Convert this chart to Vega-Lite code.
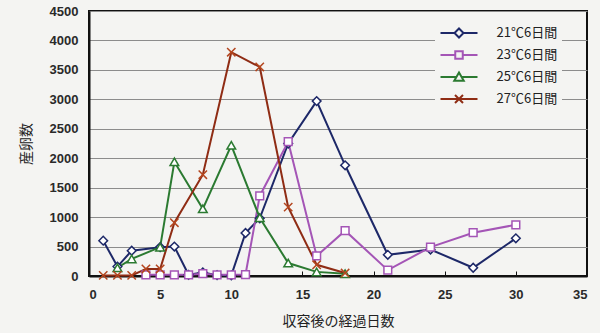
{
  "$schema": "https://vega.github.io/schema/vega-lite/v6.json",
  "autosize": "none",
  "width": 498,
  "height": 265,
  "padding": {"left": 89, "top": 11, "right": 13, "bottom": 57},
  "background": "#f4f4f2",
  "config": {
    "font": "Noto Sans CJK JP",
    "view": {"stroke": "#111", "strokeWidth": 2},
    "legend": {
      "title": null,
      "orient": "none",
      "legendX": 346,
      "legendY": 7,
      "fillColor": "#f4f4f2",
      "padding": 4,
      "clipHeight": 22,
      "rowPadding": 0,
      "symbolSize": 100,
      "symbolOffset": 13.5,
      "symbolStrokeWidth": 2,
      "symbolFillColor": "#ffffff",
      "symbolOpacity": 1,
      "labelOffset": 31,
      "labelFont": "Noto Sans CJK JP",
      "labelFontSize": 13,
      "labelColor": "#222"
    }
  },
  "data": {
    "values": [
      {"day": 1, "series": "21℃6日間", "value": 600},
      {"day": 2, "series": "21℃6日間", "value": 160},
      {"day": 3, "series": "21℃6日間", "value": 430},
      {"day": 5, "series": "21℃6日間", "value": 490},
      {"day": 6, "series": "21℃6日間", "value": 500},
      {"day": 7, "series": "21℃6日間", "value": 20},
      {"day": 8, "series": "21℃6日間", "value": 60},
      {"day": 9, "series": "21℃6日間", "value": 15},
      {"day": 10, "series": "21℃6日間", "value": 10},
      {"day": 11, "series": "21℃6日間", "value": 730},
      {"day": 12, "series": "21℃6日間", "value": 980},
      {"day": 14, "series": "21℃6日間", "value": 2250},
      {"day": 16, "series": "21℃6日間", "value": 2970},
      {"day": 18, "series": "21℃6日間", "value": 1880},
      {"day": 21, "series": "21℃6日間", "value": 360},
      {"day": 24, "series": "21℃6日間", "value": 450},
      {"day": 27, "series": "21℃6日間", "value": 140},
      {"day": 30, "series": "21℃6日間", "value": 640},

      {"day": 4, "series": "23℃6日間", "value": 20},
      {"day": 5, "series": "23℃6日間", "value": 20},
      {"day": 6, "series": "23℃6日間", "value": 20},
      {"day": 7, "series": "23℃6日間", "value": 20},
      {"day": 8, "series": "23℃6日間", "value": 40},
      {"day": 9, "series": "23℃6日間", "value": 20},
      {"day": 10, "series": "23℃6日間", "value": 20},
      {"day": 11, "series": "23℃6日間", "value": 25},
      {"day": 12, "series": "23℃6日間", "value": 1360},
      {"day": 14, "series": "23℃6日間", "value": 2280},
      {"day": 16, "series": "23℃6日間", "value": 340},
      {"day": 18, "series": "23℃6日間", "value": 770},
      {"day": 21, "series": "23℃6日間", "value": 100},
      {"day": 24, "series": "23℃6日間", "value": 490},
      {"day": 27, "series": "23℃6日間", "value": 735},
      {"day": 30, "series": "23℃6日間", "value": 870},

      {"day": 2, "series": "25℃6日間", "value": 140},
      {"day": 3, "series": "25℃6日間", "value": 290},
      {"day": 5, "series": "25℃6日間", "value": 490},
      {"day": 6, "series": "25℃6日間", "value": 1940},
      {"day": 8, "series": "25℃6日間", "value": 1140},
      {"day": 10, "series": "25℃6日間", "value": 2220},
      {"day": 12, "series": "25℃6日間", "value": 990},
      {"day": 14, "series": "25℃6日間", "value": 220},
      {"day": 16, "series": "25℃6日間", "value": 70},
      {"day": 18, "series": "25℃6日間", "value": 40},

      {"day": 1, "series": "27℃6日間", "value": 10},
      {"day": 2, "series": "27℃6日間", "value": 10},
      {"day": 3, "series": "27℃6日間", "value": 10},
      {"day": 4, "series": "27℃6日間", "value": 120},
      {"day": 5, "series": "27℃6日間", "value": 120},
      {"day": 6, "series": "27℃6日間", "value": 905},
      {"day": 8, "series": "27℃6日間", "value": 1720},
      {"day": 10, "series": "27℃6日間", "value": 3800},
      {"day": 12, "series": "27℃6日間", "value": 3550},
      {"day": 14, "series": "27℃6日間", "value": 1170},
      {"day": 16, "series": "27℃6日間", "value": 190},
      {"day": 18, "series": "27℃6日間", "value": 50}
    ]
  },
  "encoding": {
    "x": {
      "field": "day",
      "type": "quantitative",
      "scale": {"domain": [0, 35], "nice": false, "zero": false},
      "axis": {
        "title": "収容後の経過日数",
        "values": [0, 5, 10, 15, 20, 25, 30, 35],
        "format": "d",
        "grid": false,
        "domainColor": "#111",
        "domainWidth": 2,
        "ticks": true,
        "tickSize": -5,
        "tickColor": "#111",
        "tickWidth": 1,
        "labelPadding": 17,
        "labelFont": "Liberation Sans",
        "labelFontWeight": "bold",
        "labelFontSize": 13,
        "labelColor": "#2a2a2a",
        "titleFontSize": 14,
        "titleFontWeight": "normal",
        "titleColor": "#222",
        "titlePadding": 13
      }
    },
    "y": {
      "field": "value",
      "type": "quantitative",
      "scale": {"domain": [0, 4500], "nice": false},
      "axis": {
        "title": "産卵数",
        "values": [0, 500, 1000, 1500, 2000, 2500, 3000, 3500, 4000, 4500],
        "format": "d",
        "grid": true,
        "gridColor": "#8c8c8c",
        "gridWidth": 1,
        "domainColor": "#111",
        "domainWidth": 2,
        "ticks": false,
        "labelPadding": 11,
        "labelFont": "Liberation Sans",
        "labelFontWeight": "bold",
        "labelFontSize": 13,
        "labelColor": "#2a2a2a",
        "titleFontSize": 14,
        "titleFontWeight": "normal",
        "titleColor": "#222",
        "titlePadding": 16
      }
    }
  },
  "layer": [
    {
      "mark": {"type": "line", "strokeWidth": 2},
      "encoding": {
        "color": {
          "field": "series",
          "type": "nominal",
          "scale": {
            "domain": ["21℃6日間", "23℃6日間", "25℃6日間", "27℃6日間"],
            "range": ["#1d2868", "#a455b6", "#2b7a31", "#8f2c14"]
          }
        }
      }
    },
    {
      "transform": [{"filter": {"field": "series", "equal": "21℃6日間"}}],
      "mark": {"type": "point", "shape": "diamond", "size": 75, "strokeWidth": 1.5, "fill": "#ffffff", "stroke": "#1d2868", "opacity": 1}
    },
    {
      "transform": [{"filter": {"field": "series", "equal": "23℃6日間"}}],
      "mark": {"type": "point", "shape": "square", "size": 60, "strokeWidth": 1.5, "fill": "#ffffff", "stroke": "#a455b6", "opacity": 1}
    },
    {
      "transform": [{"filter": {"field": "series", "equal": "25℃6日間"}}],
      "mark": {"type": "point", "shape": "triangle-up", "size": 75, "strokeWidth": 1.5, "fill": "#ffffff", "stroke": "#2b7a31", "opacity": 1}
    },
    {
      "transform": [{"filter": {"field": "series", "equal": "27℃6日間"}}],
      "mark": {"type": "point", "shape": "M-1,-1L1,1M-1,1L1,-1", "size": 70, "strokeWidth": 1.5, "fill": "#ffffff", "stroke": "#b4461f", "opacity": 1}
    },
    {
      "mark": {"type": "point", "opacity": 0},
      "encoding": {
        "color": {"field": "series", "type": "nominal"},
        "shape": {
          "field": "series",
          "type": "nominal",
          "scale": {
            "domain": ["21℃6日間", "23℃6日間", "25℃6日間", "27℃6日間"],
            "range": [
              "M-3.7,0L-0.9,0M0.9,0L3.7,0M0,-0.9L0.9,0L0,0.9L-0.9,0Z",
              "M-3.7,0L-0.75,0M0.75,0L3.7,0M-0.75,-0.75L0.75,-0.75L0.75,0.75L-0.75,0.75Z",
              "M-3.7,0L-0.55,0M0.55,0L3.7,0M0,-0.9L0.95,0.75L-0.95,0.75Z",
              "M-3.7,0L3.7,0M-0.8,-0.8L0.8,0.8M-0.8,0.8L0.8,-0.8"
            ]
          }
        }
      }
    }
  ]
}
